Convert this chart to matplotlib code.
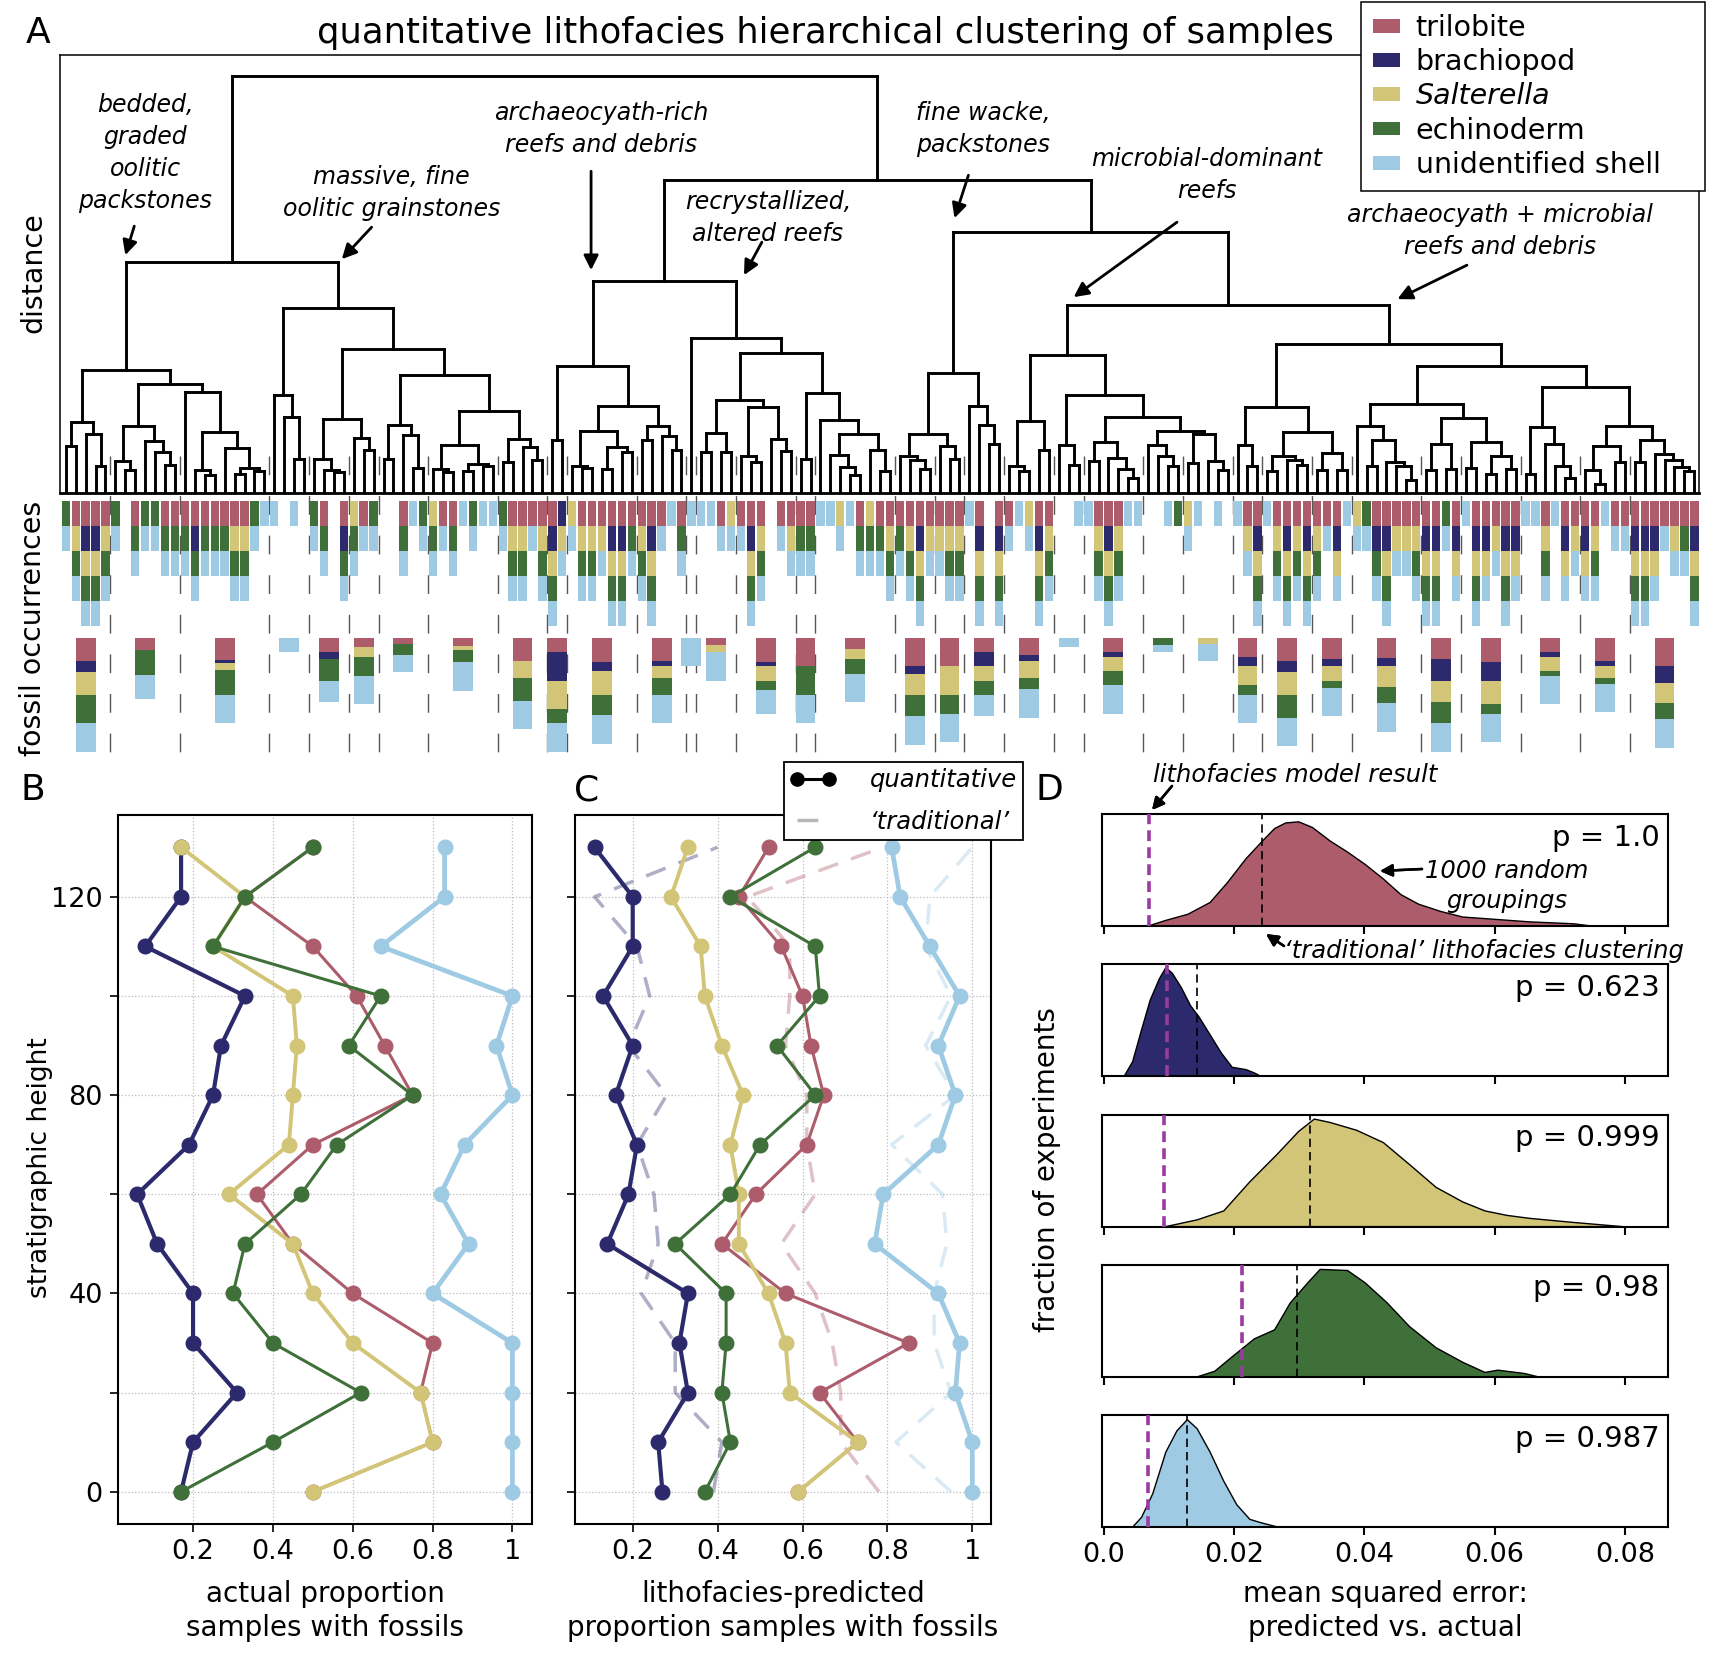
import re

import matplotlib
matplotlib.use("Agg")
import matplotlib.pyplot as plt
from matplotlib.collections import LineCollection
from matplotlib.lines import Line2D
from matplotlib.patches import Patch

plt.rcParams["font.family"] = ["DejaVu Sans"]

W, H = 1714, 1667

FOSSILS = ["trilobite", "brachiopod", "Salterella", "echinoderm", "unidentified shell"]
CODES = "TBSEU"
COLORS = ["#ad5c6c", "#2c2a6c", "#d3c577", "#3f7039", "#9ecae4"]
PURPLE = "#9b3aa0"

# ---- panel A: dendrogram (leaf = x, node = (left,right)height) ----
BEDDED = ("(((x,x)46.7,(x,(x,x)26.7)59)70.7,"
          "(((x,(x,x)22.7)32.3,(x,(x,(x,x)28.3)40.7)52.3)66.7,"
          "(x,((x,(x,x)18.3)23.3,(x,((x,x)19.3,(x,x)21.7)25)45)60.7)101)109)122.7")
MASSIVE = ("((x,(x,(x,x)34.3)75.7)98.3,"
           "(((x,(x,(x,x)20.7)22.7)34.3,(x,(x,x)42.7)55)74,"
           "(((x,x)34.3,(x,(x,x)25)58.3)67.7,"
           "(((x,(x,x)20.7)24,((x,x)21.7,(x,x)26.7)29)47.7,"
           "((x,x)31,(x,(x,x)33.3)45.7)54.3)82.3)117.7)144.3)185")
ARCHAEO_RICH = ("((x,x)53.3,(((x,(x,x)25)26.7,((x,x)24,(x,x)40.7)45.7)62.3,"
                "((x,x)53.3,(x,(x,x)43.3)56.7)67.3)86.7)126.7")
RECRYSTALLIZED = ("(x,((((x,x)40.7,(x,x)40.7)60,((x,(x,x)30.7)36.7,(x,(x,x)41.7)54.3)86)92.7,"
                  "((x,x)34,(x,((x,(x,(x,x)18.3)25.7)38.3,(x,(x,x)22.3)43.3)59)73.3)100)140)155")
FINE_WACKE = "(((x,(x,(x,x)24)32.7)37.3,(x,(x,x)34.3)46.7)59.3,(x,(x,(x,x)49)67.7)86.7)120"
MICROBIAL = ("(((x,(x,x)21.7)26.7,(x,x)43.3)71.7,((x,(x,x)28.3)47.7,"
             "(((x,x)31.7,(x,(x,(x,x)15)24.3)35)50.7,((x,(x,(x,x)27.3)36.7)47.7,"
             "((x,x)30,(x,(x,x)22.7)32.3)59.3)62.3)75.7)98.3)138.3")
ARCH_MICROBIAL = ("(((x,(x,x)27.3)47.7,(((x,x)21.7,(x,(x,x)28.3)33.3)37.3,"
                  "((x,x)22.7,(x,x)23.3)40)60.7)86,"
                  "(((x,((x,x)27.3,(x,(x,(x,x)12.7)26.7)30.7)53.3)67.3,"
                  "(((x,x)22.7,(x,x)24)49.3,((x,x)25,((x,x)19.3,(x,x)24)36.7)50.7)75)89.3,"
                  "(((x,x)19.3,(x,(x,(x,x)15)27.3)49)65.7,"
                  "(((x,(x,x)9.3)22.7,(x,x)30.7)46.7,"
                  "((x,x)30.7,(x,(x,(x,(x,x)21.7)26)32.7)39.3)53.3)66.7)106)126.7)149.3")
TREE = ("((" + BEDDED + "," + MASSIVE + ")231,"
        "((" + ARCHAEO_RICH + "," + RECRYSTALLIZED + ")212.3,"
        "(" + FINE_WACKE + ",(" + MICROBIAL + "," + ARCH_MICROBIAL + ")188.3)261.6)313)416.8")

# fossils present in each sample (dendrogram order)
OCCURRENCE = [
    "EU", "TSEU", "TBSEU", "TBSEU", "TSEU", "EU", "", "TEU", "EU", "EU",
    "TEU", "TEU", "TEU", "TBEU", "TEU", "TEU", "TEU", "TSEU", "TSEU", "EU",
    "U", "U", "", "U", "", "EU", "TEU", "", "TBEU", "SEU",
    "TU", "EU", "", "", "TEU", "U", "EU", "SEU", "TU", "TEU",
    "U", "EU", "U", "U", "EU", "TSEU", "TSEU", "TU", "TSEU", "TBSEU",
    "BSU", "SU", "TSEU", "TSEU", "TSU", "TBSEU", "TBSEU", "TEU", "TSEU", "TBSEU",
    "TU", "U", "TEU", "U", "U", "U", "TU", "SU", "TU", "TBSEU",
    "TSEU", "", "TU", "TSU", "TEU", "TEU", "U", "U", "SU", "U",
    "TEU", "SEU", "TEU", "TSEU", "TEU", "TSEU", "TBSEU", "TSU", "TSU", "TSEU",
    "TSEU", "U", "TBSEU", "", "TBSEU", "TU", "U", "SU", "TBSEU", "TSEU",
    "", "", "U", "U", "TSEU", "TBSEU", "TSEU", "U", "U", "",
    "", "U", "E", "SU", "U", "", "U", "", "U", "TSU",
    "TBSEU", "U", "TSEU", "TBSEU", "TSEU", "TBSEU", "TSEU", "TU", "TBSU", "U",
    "SU", "EU", "TBEU", "TBSEU", "TSU", "TSU", "TSEU", "TBSEU", "TBSEU", "EU",
    "TBSU", "U", "TBSEU", "TBSU", "TSU", "TBSEU", "TBSU", "U", "U", "TSEU",
    "U", "TBSU", "TSU", "TBSU", "TSEU", "U", "TU", "TU", "TBSEU", "TBSEU",
    "TBSU", "TU", "TSU", "TEU", "TBSEU",
]
# first sample of each lithofacies group
GROUP_STARTS = [0, 5, 12, 21, 25, 29, 32, 37, 44, 49, 51, 58, 63, 64, 68, 74, 76,
                84, 88, 91, 95, 100, 103, 109, 113, 118, 121, 126, 130, 137, 141,
                147, 153, 158]

# ---- panels B and C ----
HEIGHTS = [0, 10, 20, 30, 40, 50, 60, 70, 80, 90, 100, 110, 120, 130]
ACTUAL = {
    "trilobite": [0.50, 0.80, 0.77, 0.80, 0.60, 0.45, 0.36, 0.50, 0.75, 0.68, 0.61, 0.50, 0.33, 0.50],
    "brachiopod": [0.17, 0.20, 0.31, 0.20, 0.20, 0.11, 0.06, 0.19, 0.25, 0.27, 0.33, 0.08, 0.17, 0.17],
    "Salterella": [0.50, 0.80, 0.77, 0.60, 0.50, 0.45, 0.29, 0.44, 0.45, 0.46, 0.45, 0.25, 0.33, 0.17],
    "echinoderm": [0.17, 0.40, 0.62, 0.40, 0.30, 0.33, 0.47, 0.56, 0.75, 0.59, 0.67, 0.25, 0.33, 0.50],
    "unidentified shell": [1.0, 1.0, 1.0, 1.0, 0.80, 0.89, 0.82, 0.88, 1.0, 0.96, 1.0, 0.67, 0.83, 0.83],
}
PREDICTED = {
    "trilobite": [0.59, 0.73, 0.64, 0.85, 0.56, 0.41, 0.49, 0.61, 0.65, 0.62, 0.60, 0.55, 0.45, 0.52],
    "brachiopod": [0.27, 0.26, 0.33, 0.31, 0.33, 0.14, 0.19, 0.21, 0.16, 0.20, 0.13, 0.20, 0.20, 0.11],
    "Salterella": [0.59, 0.73, 0.57, 0.56, 0.52, 0.45, 0.45, 0.43, 0.46, 0.41, 0.37, 0.36, 0.29, 0.33],
    "echinoderm": [0.37, 0.43, 0.41, 0.42, 0.42, 0.30, 0.43, 0.50, 0.63, 0.54, 0.64, 0.63, 0.43, 0.63],
    "unidentified shell": [1.0, 1.0, 0.96, 0.97, 0.92, 0.77, 0.79, 0.92, 0.96, 0.92, 0.97, 0.90, 0.83, 0.81],
}
TRADITIONAL = {
    "trilobite": [0.78, 0.69, 0.69, 0.67, 0.63, 0.55, 0.63, 0.61, 0.61, 0.56, 0.57, 0.57, 0.47, 0.79],
    "brachiopod": [0.39, 0.41, 0.30, 0.30, 0.22, 0.26, 0.25, 0.21, 0.28, 0.19, 0.24, 0.21, 0.11, 0.40],
    "unidentified shell": [0.95, 0.82, 0.95, 0.91, 0.91, 0.94, 0.93, 0.81, 0.96, 0.89, 0.95, 0.89, 0.90, 1.0],
}
LINE_WIDTHS = [2.2, 3.0, 2.8, 2.2, 3.4]

# ---- panel D: density of MSE over 1000 random groupings ----
MSE_X = [
    [0.0068, 0.0095, 0.0129, 0.0163, 0.019, 0.0218, 0.0242, 0.0262, 0.0279, 0.0299, 0.032, 0.0347,
     0.0374, 0.0401, 0.0429, 0.0456, 0.0483, 0.0517, 0.0551, 0.0592, 0.0653, 0.0721, 0.0748],
    [0.0031, 0.0044, 0.0058, 0.0071, 0.0085, 0.0095, 0.0105, 0.0119, 0.0133, 0.0146, 0.0163, 0.018,
     0.0197, 0.0218, 0.0231, 0.0241],
    [0.0095, 0.0143, 0.0184, 0.0224, 0.0265, 0.0299, 0.0323, 0.0347, 0.0388, 0.0429, 0.047, 0.051,
     0.0551, 0.0585, 0.0619, 0.0653, 0.0721, 0.0796],
    [0.0143, 0.017, 0.0197, 0.0231, 0.0262, 0.0286, 0.0313, 0.0332, 0.0374, 0.0401, 0.0435, 0.0469,
     0.051, 0.0551, 0.0585, 0.0605, 0.0646, 0.0667],
    [0.0044, 0.0058, 0.0075, 0.0095, 0.0112, 0.0128, 0.0143, 0.0163, 0.0184, 0.0204, 0.0224, 0.0241, 0.0268],
]
MSE_DENSITY = [
    [0, 0.05, 0.105, 0.21, 0.39, 0.6, 0.75, 0.87, 0.92, 0.93, 0.88, 0.76, 0.66, 0.55, 0.42, 0.28,
     0.195, 0.13, 0.08, 0.063, 0.037, 0.02, 0],
    [0, 0.13, 0.42, 0.68, 0.87, 0.97, 0.92, 0.79, 0.63, 0.53, 0.37, 0.21, 0.08, 0.06, 0.03, 0],
    [0, 0.06, 0.14, 0.40, 0.64, 0.85, 0.96, 0.93, 0.86, 0.75, 0.55, 0.35, 0.22, 0.14, 0.10, 0.074, 0.037, 0],
    [0, 0.05, 0.18, 0.34, 0.42, 0.66, 0.84, 0.96, 0.95, 0.84, 0.66, 0.45, 0.26, 0.13, 0.04, 0.06, 0.03, 0],
    [0, 0.09, 0.30, 0.67, 0.86, 0.96, 0.88, 0.67, 0.41, 0.20, 0.07, 0.04, 0],
]
MODEL_MSE = [0.0069, 0.0097, 0.0092, 0.0212, 0.0068]
TRADITIONAL_MSE = [0.0242, 0.0143, 0.0317, 0.0296, 0.0127]
P_VALUES = ["1.0", "0.623", "0.999", "0.98", "0.987"]


def px_rect(x0, y0, x1, y1):
    return [x0 / W, 1 - y1 / H, (x1 - x0) / W, (y1 - y0) / H]


def fxy(x, y):
    return (x / W, 1 - y / H)


def dendrogram_segments(tree):
    tokens = re.findall(r"\(|\)[0-9.]+|,|x", tree)
    segs = []
    state = {"pos": 0, "leaf": 0}

    def walk():
        tok = tokens[state["pos"]]
        state["pos"] += 1
        if tok == "x":
            state["leaf"] += 1
            return state["leaf"] - 1, 0.0
        xl, hl = walk()
        state["pos"] += 1
        xr, hr = walk()
        h = float(tokens[state["pos"]][1:])
        state["pos"] += 1
        segs.extend([[(xl, hl), (xl, h)], [(xr, hr), (xr, h)], [(xl, h), (xr, h)]])
        return (xl + xr) / 2, h

    walk()
    return segs, state["leaf"]


fig = plt.figure(figsize=(W / 100, H / 100), dpi=100)

# ---------------- A: dendrogram ----------------
XLIM = (-0.58, 164.47)
ax_a = fig.add_axes(px_rect(60, 55, 1699, 493))
segs, n_leaves = dendrogram_segments(TREE)
ax_a.add_collection(LineCollection(segs, colors="k", linewidths=2.1, capstyle="projecting"))
ax_a.set_xlim(*XLIM)
ax_a.set_ylim(0, 438.3)
ax_a.set_xticks([])
ax_a.set_yticks([])
for side in ["top", "left", "right"]:
    ax_a.spines[side].set_linewidth(1.1)
ax_a.spines["bottom"].set_linewidth(2.0)

annot = dict(fontsize=17, style="italic", ha="center", va="center", linespacing=1.42)
arrow = dict(arrowstyle="-|>", color="k", lw=2.0, mutation_scale=22, shrinkA=0, shrinkB=0)
labels_a = [
    ("bedded,\ngraded\noolitic\npackstones", (8.0, 340), (6.9, 267), (6.0, 238)),
    ("massive, fine\noolitic grainstones", (32.8, 300), (30.8, 266), (27.8, 234)),
    ("archaeocyath-rich\nreefs and debris", (53.9, 364), (52.9, 322), (52.9, 223)),
    ("recrystallized,\naltered reefs", (70.7, 275), (70.1, 251), (68.3, 218)),
    ("fine wacke,\npackstones", (92.4, 364), (90.9, 318), (89.5, 275)),
    ("microbial-dominant\nreefs", (114.9, 318), (111.9, 271), (101.5, 196)),
    ("archaeocyath + microbial\nreefs and debris", (144.4, 262), (141.1, 228), (134.1, 194)),
]
for text, pos, tail, head in labels_a:
    ax_a.text(*pos, text, **annot)
    ax_a.annotate("", xy=head, xytext=tail, arrowprops=arrow)

# ---------------- A: fossil occurrences ----------------
ax_o = fig.add_axes(px_rect(60, 493, 1699, 770))
ax_o.set_xlim(*XLIM)
ax_o.set_ylim(277, 0)
ax_o.axis("off")

seps = [s - 0.5 for s in GROUP_STARTS[1:]]
ax_o.vlines(seps, -37, 262, colors="#555555", linewidth=1.0,
            linestyles=[(0, (13.5, 15))], clip_on=False, zorder=0)

xs, bottoms, cols = [], [], []
for k, code in enumerate(OCCURRENCE):
    for r, ch in enumerate(code):
        xs.append(k)
        bottoms.append(8.4 + 25 * r)
        cols.append(COLORS[CODES.index(ch)])
ax_o.bar(xs, 24.3, bottom=bottoms, width=0.84, color=cols, linewidth=0, zorder=2)

ends = GROUP_STARTS[1:] + [len(OCCURRENCE)]
for start, end in zip(GROUP_STARTS, ends):
    members = OCCURRENCE[start:end]
    center = (start + end - 1) / 2
    y = 145.0
    for j, ch in enumerate(CODES):
        frac = sum(ch in m for m in members) / len(members)
        if frac > 0:
            ax_o.bar(center, frac * 28.5, bottom=y, width=2.0, color=COLORS[j],
                     linewidth=0, zorder=2)
            y += frac * 28.5

fig.text(*fxy(38, 33), "A", fontsize=26, ha="center", va="center")
fig.text(*fxy(825, 33), "quantitative lithofacies hierarchical clustering of samples",
         fontsize=25.5, ha="center", va="center")
fig.text(*fxy(33, 273), "distance", fontsize=20.5, rotation=90, ha="center", va="center")
fig.text(*fxy(33, 628), "fossil occurrences", fontsize=20.5, rotation=90,
         ha="center", va="center")

leg = fig.legend([Patch(facecolor=c, edgecolor="none") for c in COLORS], FOSSILS,
                 loc="upper left", bbox_to_anchor=(1361 / W, 1 - 186 / H, 344 / W, 184 / H),
                 mode="expand", fontsize=20.5,
                 frameon=True, fancybox=False, edgecolor="k", framealpha=1,
                 handlelength=0.95, handleheight=0.36, handletextpad=0.55,
                 labelspacing=0.22, borderpad=0.42, borderaxespad=0)
leg.get_frame().set_linewidth(1.1)
leg.get_texts()[2].set_fontstyle("italic")


# ---------------- B and C ----------------
def style_profile(ax, xlim, ylabels):
    ax.set_xlim(*xlim)
    ax.set_ylim(-6.5, 136.5)
    ax.set_xticks([0.2, 0.4, 0.6, 0.8, 1.0])
    ax.set_xticklabels(["0.2", "0.4", "0.6", "0.8", "1"])
    ax.set_yticks(range(0, 121, 20))
    if ylabels:
        ax.set_yticklabels(["0", "", "40", "", "80", "", "120"])
    else:
        ax.set_yticklabels([])
    ax.grid(True, ls=":", color="#bbbbbb", lw=0.9)
    ax.set_axisbelow(True)
    ax.tick_params(direction="out", length=6, width=1.2, labelsize=19.5, pad=5)
    for sp in ax.spines.values():
        sp.set_linewidth(1.5)


ax_b = fig.add_axes(px_rect(118, 815, 532, 1524))
for name, c, lw in zip(FOSSILS, COLORS, LINE_WIDTHS):
    ax_b.plot(ACTUAL[name], HEIGHTS, "-o", color=c, lw=lw, ms=10.5, zorder=3)
style_profile(ax_b, (0.012, 1.049), True)

ax_c = fig.add_axes(px_rect(575, 815, 991, 1524))
for name, c in zip(FOSSILS, COLORS):
    if name in TRADITIONAL:
        ax_c.plot(TRADITIONAL[name], HEIGHTS, color=c, lw=2.5, alpha=0.38,
                  ls=(0, (6, 4)), zorder=2)
for name, c, lw in zip(FOSSILS, COLORS, LINE_WIDTHS):
    ax_c.plot(PREDICTED[name], HEIGHTS, "-o", color=c, lw=lw, ms=10.5, zorder=3)
style_profile(ax_c, (0.064, 1.044), False)

leg_c = ax_c.legend(
    [Line2D([], [], color="k", lw=2.2, marker="o", ms=9.5),
     Line2D([], [], color="#999999", lw=2.5, ls=(0, (6, 4)), alpha=0.7)],
    ["quantitative", "\u2018traditional\u2019"],
    loc="upper left", bbox_to_anchor=fxy(784, 762), bbox_transform=fig.transFigure,
    prop=dict(style="italic", size=17.5), numpoints=2, frameon=True, fancybox=False,
    edgecolor="k", framealpha=1, handlelength=1.9, handletextpad=1.4,
    borderpad=0.25, labelspacing=0.72, borderaxespad=0)
leg_c.get_frame().set_linewidth(1.3)
leg_c.set_zorder(10)

fig.text(*fxy(33, 790), "B", fontsize=26, ha="center", va="center")
fig.text(*fxy(587, 790), "C", fontsize=26, ha="center", va="center")
fig.text(*fxy(40, 1168), "stratigraphic height", fontsize=19, rotation=90,
         ha="center", va="center")
fig.text(*fxy(325, 1611), "actual proportion\nsamples with fossils", fontsize=20,
         ha="center", va="center", linespacing=1.25)
fig.text(*fxy(783, 1611), "lithofacies-predicted\nproportion samples with fossils",
         fontsize=20, ha="center", va="center", linespacing=1.25)

# ---------------- D ----------------
for i in range(5):
    top = 814 + 150.3 * i
    ax = fig.add_axes(px_rect(1102, top, 1668, top + 112))
    ax.fill(MSE_X[i], MSE_DENSITY[i], facecolor=COLORS[i], edgecolor="k", lw=1.0, zorder=2)
    ax.axvline(MODEL_MSE[i], color=PURPLE, lw=2.6, ls=(0, (3, 1.7)), zorder=3)
    ax.axvline(TRADITIONAL_MSE[i], color="k", lw=1.2, ls=(0, (5, 3)), zorder=3)
    ax.text(0.985, 0.79, f"p = {P_VALUES[i]}", transform=ax.transAxes,
            ha="right", va="center", fontsize=21)
    ax.set_xlim(-0.0003, 0.0866)
    ax.set_ylim(0, 1)
    ax.set_yticks([])
    ax.set_xticks([0, 0.02, 0.04, 0.06, 0.08])
    if i == 4:
        ax.set_xticklabels(["0.0", "0.02", "0.04", "0.06", "0.08"])
    else:
        ax.set_xticklabels([])
    ax.tick_params(direction="out", length=6, width=1.5, labelsize=19.5, pad=5)
    for sp in ax.spines.values():
        sp.set_linewidth(1.5)

fig.text(*fxy(1049, 790), "D", fontsize=26, ha="center", va="center")
fig.text(*fxy(1047, 1170), "fraction of experiments", fontsize=20, rotation=90,
         ha="center", va="center")
fig.text(*fxy(1385, 1611), "mean squared error:\npredicted vs. actual", fontsize=20,
         ha="center", va="center", linespacing=1.25)

small_arrow = dict(arrowstyle="-|>", color="k", lw=1.8, mutation_scale=18,
                   shrinkA=0, shrinkB=0)
fig.text(*fxy(1295, 775), "lithofacies model result", fontsize=17.5, style="italic",
         ha="center", va="center")
fig.add_artist(plt.annotate("", xy=fxy(1152, 810), xytext=fxy(1172, 786),
                            xycoords="figure fraction", textcoords="figure fraction",
                            arrowprops=small_arrow))
fig.text(*fxy(1507, 886), "1000 random\ngroupings", fontsize=17.5, style="italic",
         ha="center", va="center", linespacing=1.3)
fig.add_artist(plt.annotate("", xy=fxy(1380, 871), xytext=fxy(1422, 869),
                            xycoords="figure fraction", textcoords="figure fraction",
                            arrowprops=small_arrow))
fig.text(*fxy(1284, 951), "\u2018traditional\u2019 lithofacies clustering", fontsize=17.5,
         style="italic", ha="left", va="center")
fig.add_artist(plt.annotate("", xy=fxy(1266, 934), xytext=fxy(1284, 946),
                            xycoords="figure fraction", textcoords="figure fraction",
                            arrowprops=small_arrow))

fig.savefig("out.png", dpi=100, facecolor="white")
